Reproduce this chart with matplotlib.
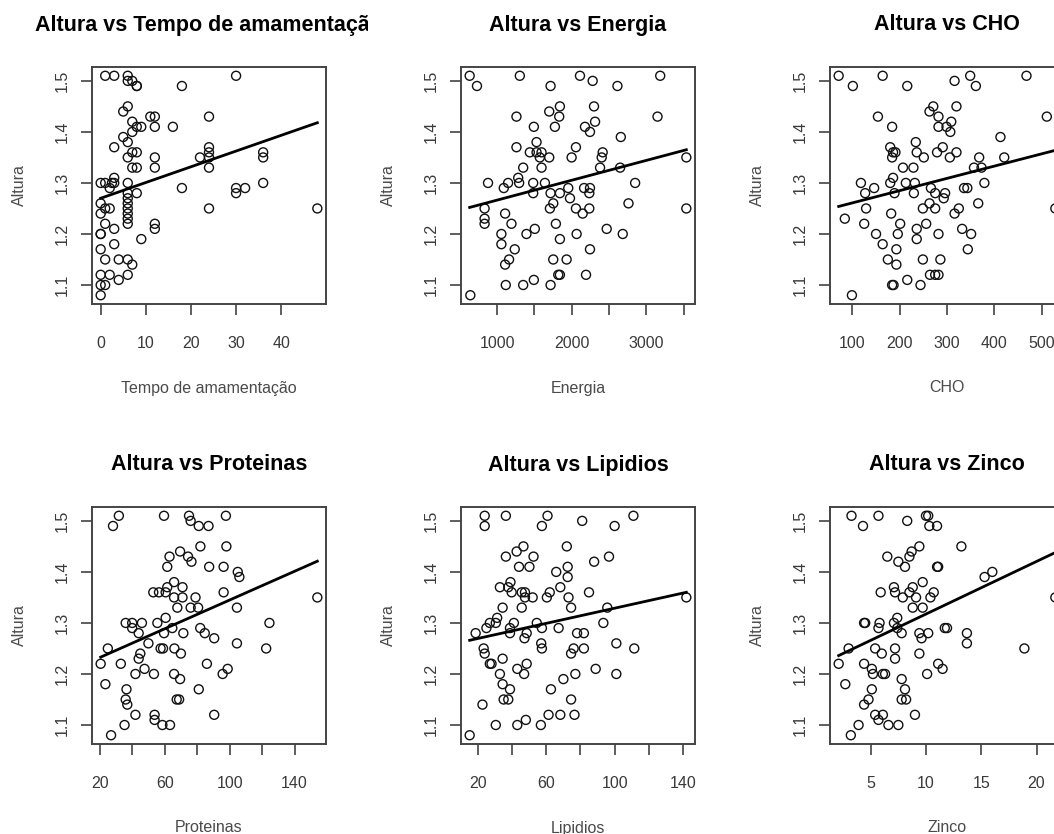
import numpy as np
import matplotlib
matplotlib.use('Agg')
from matplotlib import pyplot as plt
from matplotlib.transforms import Bbox, TransformedBbox

plt.rcParams['font.family'] = ['Liberation Sans', 'DejaVu Sans']

# Altura vs Tempo de amamentacao
tempo_x = [1, 3, 6, 6, 7, 8, 8, 18, 30,
           6, 5, 11, 12, 24, 7, 8, 9, 12, 16, 7, 5, 6, 3, 24,
           7, 8, 24, 36, 6, 12, 22, 24, 36,
           7, 8, 12, 24, 3,
           0, 1, 2.5, 3, 6, 36,
           2, 18, 30, 32, 30, 8,
           6, 6, 6, 6, 6, 6, 6,
           0, 1, 2, 48, 24, 0,
           12, 1, 12, 3, 0, 0, 9, 3, 0,
           1, 4, 6, 7, 0, 2, 6, 4, 0, 1, 0]
tempo_y = [1.51, 1.51, 1.51, 1.50, 1.50, 1.49, 1.49, 1.49, 1.51,
           1.45, 1.44, 1.43, 1.43, 1.43, 1.42, 1.41, 1.41, 1.41, 1.41, 1.40, 1.39, 1.38, 1.37, 1.37,
           1.36, 1.36, 1.36, 1.36, 1.35, 1.35, 1.35, 1.35, 1.35,
           1.33, 1.33, 1.33, 1.33, 1.31,
           1.30, 1.30, 1.30, 1.30, 1.30, 1.30,
           1.29, 1.29, 1.29, 1.29, 1.28, 1.28,
           1.28, 1.27, 1.26, 1.25, 1.24, 1.23, 1.22,
           1.26, 1.25, 1.25, 1.25, 1.25, 1.24,
           1.22, 1.22, 1.21, 1.21, 1.20, 1.20, 1.19, 1.18, 1.17,
           1.15, 1.15, 1.15, 1.14, 1.12, 1.12, 1.12, 1.11, 1.10, 1.10, 1.08]

# Altura vs Energia
energia_x = [633, 731, 1305, 2111, 2281, 1717, 2613, 3186,
             1260, 1699, 1842, 1833, 2299, 2313, 2245, 2178, 1493, 1775, 2658, 3150,
             1529, 1260, 2057, 1439, 1529, 1596, 1573, 1699, 1999, 2402, 2415, 3536,
             1350, 1596, 2380, 2649, 1283,
             879, 1148, 1296, 1484, 1641, 2850, 1090, 1954, 2166, 2245,
             1484, 1717, 1842, 2236, 1977, 1753, 2761,
             1708, 2057, 2236, 3536, 833, 1108, 2147, 833, 1193, 833, 1788,
             1506, 2469, 1058, 1394, 2066, 2684, 1842, 1058, 1237, 2245,
             1161, 1753, 1932, 1108, 1842, 1820, 2192, 1117, 1350, 1493, 1717, 642]
energia_y = [1.51, 1.49, 1.51, 1.51, 1.50, 1.49, 1.49, 1.51,
             1.43, 1.44, 1.45, 1.43, 1.45, 1.42, 1.40, 1.41, 1.41, 1.41, 1.39, 1.43,
             1.38, 1.37, 1.37, 1.36, 1.36, 1.36, 1.35, 1.35, 1.35, 1.35, 1.36, 1.35,
             1.33, 1.33, 1.33, 1.33, 1.31,
             1.30, 1.30, 1.30, 1.30, 1.30, 1.30, 1.29, 1.29, 1.29, 1.29,
             1.28, 1.28, 1.28, 1.28, 1.27, 1.26, 1.26,
             1.25, 1.25, 1.25, 1.25, 1.25, 1.24, 1.24, 1.23, 1.22, 1.22, 1.22,
             1.21, 1.21, 1.20, 1.20, 1.20, 1.20, 1.19, 1.18, 1.17, 1.17,
             1.15, 1.15, 1.15, 1.14, 1.12, 1.12, 1.12, 1.10, 1.10, 1.11, 1.10, 1.08]

# Altura vs CHO
cho_x = [71, 101, 164, 216, 316, 349, 361, 468,
         154, 184, 271, 263, 282, 320, 309, 282, 299, 307, 413, 511,
         234, 180, 291, 186, 191, 236, 279, 320, 251, 184, 306, 368, 421,
         207, 229, 357, 373, 186,
         118, 180, 213, 232, 379, 146, 266, 336, 343,
         127, 189, 230, 275, 296, 293, 263, 366,
         129, 249, 275, 325, 529, 316, 182, 84, 125, 201, 256,
         236, 332, 150, 196, 282, 351, 236, 164, 193, 344,
         175, 249, 286, 193, 264, 275, 282, 184, 187, 216, 244, 99]
cho_y = [1.51, 1.49, 1.51, 1.49, 1.50, 1.51, 1.49, 1.51,
         1.43, 1.41, 1.45, 1.44, 1.43, 1.45, 1.42, 1.41, 1.41, 1.40, 1.39, 1.43,
         1.38, 1.37, 1.37, 1.36, 1.36, 1.36, 1.36, 1.36, 1.35, 1.35, 1.35, 1.35, 1.35,
         1.33, 1.33, 1.33, 1.33, 1.31,
         1.30, 1.30, 1.30, 1.30, 1.30, 1.29, 1.29, 1.29, 1.29,
         1.28, 1.28, 1.28, 1.28, 1.28, 1.27, 1.26, 1.26,
         1.25, 1.25, 1.25, 1.25, 1.25, 1.24, 1.24, 1.23, 1.22, 1.22, 1.22,
         1.21, 1.21, 1.20, 1.20, 1.20, 1.20, 1.19, 1.18, 1.17, 1.17,
         1.15, 1.15, 1.15, 1.14, 1.12, 1.12, 1.12, 1.10, 1.10, 1.11, 1.10, 1.08]

# Altura vs Proteinas
prot_x = [28.2, 31.8, 59.6, 75, 76, 81, 87, 97.7,
          82, 98, 63, 69.5, 74.4, 76.5, 61.6, 87.4, 96.3, 105, 106,
          65.8, 71, 61.6, 53, 56.5, 60.6, 65.8, 71, 79, 96.3, 154,
          67.8, 76, 80.6, 104.5,
          36, 40, 46, 55.5, 60.6, 124.5, 40, 64.7, 81.9, 59.6, 71.5, 44, 84.7, 90.5,
          50, 104.5, 25, 57.5, 59, 66, 122.5, 45, 70, 44,
          20.6, 33, 86, 47.6, 98.8, 42, 53.4, 65.8, 95.7, 69.5,
          23.5, 36.5, 81, 36, 67.4, 68.9, 37, 42, 53.8, 90.5, 53.8,
          35.3, 58.6, 63.3, 27]
prot_y = [1.49, 1.51, 1.51, 1.51, 1.50, 1.49, 1.49, 1.51,
          1.45, 1.45, 1.43, 1.44, 1.43, 1.42, 1.41, 1.41, 1.41, 1.40, 1.39,
          1.38, 1.37, 1.37, 1.36, 1.36, 1.36, 1.35, 1.35, 1.35, 1.36, 1.35,
          1.33, 1.33, 1.33, 1.33,
          1.30, 1.30, 1.30, 1.30, 1.31, 1.30, 1.29, 1.29, 1.29, 1.28, 1.28, 1.28, 1.28, 1.27,
          1.26, 1.26, 1.25, 1.25, 1.25, 1.25, 1.25, 1.24, 1.24, 1.23,
          1.22, 1.22, 1.22, 1.21, 1.21, 1.20, 1.20, 1.20, 1.20, 1.19,
          1.18, 1.17, 1.17, 1.15, 1.15, 1.15, 1.14, 1.12, 1.12, 1.12, 1.11,
          1.10, 1.10, 1.10, 1.08]

# Altura vs Lipidios
lip_x = [23.9, 23.9, 36.3, 60.7, 57.4, 81, 100, 111,
         46.6, 42.6, 36.3, 52.5, 72, 96.7, 44, 50.1, 72.5, 88, 65.8, 72.5,
         39, 32.8, 37.7, 68.2, 39.7, 45.6, 47.5, 62, 85,
         47.5, 52, 60.3, 73, 142,
         34.4, 45.6, 74.5, 95.7, 31.2,
         26.9, 30.4, 41, 54.4, 93.4, 24.9, 38.7, 57.4, 67.2,
         18.6, 38.7, 48.5, 78, 82, 47.2, 57, 101,
         23.3, 57.4, 76, 82, 111.5, 23.9, 74.5, 34.4,
         26.9, 27.9, 48.5, 43, 88.9, 32.8, 47, 77, 101, 70,
         34.4, 38.7, 62.7, 35, 37.7, 74.5, 22.6,
         61.3, 68.2, 76.5, 48, 30.4, 43, 56.8, 15.1]
lip_y = [1.51, 1.49, 1.51, 1.51, 1.49, 1.50, 1.49, 1.51,
         1.45, 1.44, 1.43, 1.43, 1.45, 1.43, 1.41, 1.41, 1.41, 1.42, 1.40, 1.39,
         1.38, 1.37, 1.37, 1.37, 1.36, 1.36, 1.36, 1.36, 1.36,
         1.35, 1.35, 1.35, 1.35, 1.35,
         1.33, 1.33, 1.33, 1.33, 1.31,
         1.30, 1.30, 1.30, 1.30, 1.30, 1.29, 1.29, 1.29, 1.29,
         1.28, 1.28, 1.28, 1.28, 1.28, 1.27, 1.26, 1.26,
         1.25, 1.25, 1.25, 1.25, 1.25, 1.24, 1.24, 1.23,
         1.22, 1.22, 1.22, 1.21, 1.21, 1.20, 1.20, 1.20, 1.20, 1.19,
         1.18, 1.17, 1.17, 1.15, 1.15, 1.15, 1.14,
         1.12, 1.12, 1.12, 1.11, 1.10, 1.10, 1.10, 1.08]

# Altura vs Zinco
zinco_x = [3.26, 4.3, 5.7, 8.3, 10, 10.2, 10.3, 11.0,
           9.4, 13.2, 8.7, 8.5, 6.5, 7.5, 8.1, 11.0, 11.1, 15.3, 16.0,
           9.7, 7.1, 8.8, 5.9, 7.2, 8.5, 10.7, 7.9, 9.1, 10.4, 21.7,
           8.8, 9.7, 7.4,
           4.4, 4.5, 5.8, 7.1, 5.7, 7.4, 11.7, 11.9, 7.8, 9.4, 10.2, 13.7, 9.6, 13.7,
           3.0, 5.4, 7.2, 18.9, 6.0, 9.4, 7.2,
           2.1, 4.4, 11.1, 5.1, 11.5, 5.2, 6.1, 6.3, 10.1, 7.8,
           2.7, 5.1, 8.1, 4.8, 7.8, 8.2, 4.4,
           5.4, 6.1, 9.0, 5.7, 3.9, 6.6, 7.5, 3.2]
zinco_y = [1.51, 1.49, 1.51, 1.50, 1.51, 1.51, 1.49, 1.49,
           1.45, 1.45, 1.44, 1.43, 1.43, 1.42, 1.41, 1.41, 1.41, 1.39, 1.40,
           1.38, 1.37, 1.37, 1.36, 1.36, 1.36, 1.36, 1.35, 1.35, 1.35, 1.35,
           1.33, 1.33, 1.31,
           1.30, 1.30, 1.30, 1.30, 1.29, 1.29, 1.29, 1.29, 1.28, 1.28, 1.28, 1.28, 1.27, 1.26,
           1.25, 1.25, 1.25, 1.25, 1.24, 1.24, 1.23,
           1.22, 1.22, 1.22, 1.21, 1.21, 1.20, 1.20, 1.20, 1.20, 1.19,
           1.18, 1.17, 1.17, 1.15, 1.15, 1.15, 1.14,
           1.12, 1.12, 1.12, 1.11, 1.10, 1.10, 1.10, 1.08]

# reta de regressao (intercepto, inclinacao)
fit_intercept = [1.270, 1.2274, 1.2369, 1.2040, 1.2548, 1.2144]
fit_slope = [0.003083, 3.893e-5, 0.0002402, 0.001409, 0.000741, 0.010306]

titles = ['Altura vs Tempo de amamentação', 'Altura vs Energia', 'Altura vs CHO',
          'Altura vs Proteinas', 'Altura vs Lipidios', 'Altura vs Zinco']
xlabels = ['Tempo de amamentação', 'Energia', 'CHO', 'Proteinas', 'Lipidios', 'Zinco']
xticks = [[0, 10, 20, 30, 40],
          [1000, 1500, 2000, 2500, 3000, 3500],
          [100, 200, 300, 400, 500],
          [20, 40, 60, 80, 100, 120, 140],
          [20, 40, 60, 80, 100, 120, 140],
          [5, 10, 15, 20]]
xticklabels = [['0', '10', '20', '30', '40'],
               ['1000', '', '2000', '', '3000', ''],
               ['100', '200', '300', '400', '500'],
               ['20', '', '60', '', '100', '', '140'],
               ['20', '', '60', '', '100', '', '140'],
               ['5', '10', '15', '20']]
yticks = [1.1, 1.2, 1.3, 1.4, 1.5]

xs = [tempo_x, energia_x, cho_x, prot_x, lip_x, zinco_x]
ys = [tempo_y, energia_y, cho_y, prot_y, lip_y, zinco_y]

W, H = 1054, 834
fig = plt.figure(figsize=(W / 100, H / 100), dpi=100)

col_left = [92, 461, 830]
row_top = [67, 507]
aw, ah = 234, 237

for i in range(6):
    r, c = i // 3, i % 3
    left = col_left[c]
    top = row_top[r]
    ax = fig.add_axes([left / W, 1 - (top + ah) / H, aw / W, ah / H])
    x = np.array(xs[i], dtype=float)
    y = np.array(ys[i], dtype=float)
    ax.scatter(x, y, s=42, facecolors='none', edgecolors='#111111', linewidths=1.0, zorder=3)
    xl = np.array([x.min(), x.max()])
    ax.plot(xl, fit_intercept[i] + fit_slope[i] * xl, color='black', lw=2.0, zorder=4)

    # limites como no R (4% de folga)
    dx = (x.max() - x.min()) * 0.04
    dy = (y.max() - y.min()) * 0.04
    ax.set_xlim(x.min() - dx, x.max() + dx)
    ax.set_ylim(y.min() - dy, y.max() + dy)

    ax.set_xticks(xticks[i])
    ax.set_xticklabels(xticklabels[i])
    ax.set_yticks(yticks)
    ax.set_yticklabels(['1.1', '1.2', '1.3', '1.4', '1.5'], rotation=90, va='center')
    ax.tick_params(axis='x', length=8, width=1.1, color='#333333', pad=15,
                   labelsize=11.5, labelcolor='#3a3a3a')
    ax.tick_params(axis='y', length=8, width=1.1, color='#333333', pad=8,
                   labelsize=11.5, labelcolor='#3a3a3a')
    for s in ax.spines.values():
        s.set_color('#444444')
        s.set_linewidth(1.4)

    ax.text(0.5, -84 / ah, xlabels[i], transform=ax.transAxes, ha='center', va='center',
            fontsize=11.5, color='#4a4a4a')
    ax.text(-73 / aw, 0.5, 'Altura', transform=ax.transAxes, ha='center', va='center',
            rotation=90, fontsize=11.5, color='#4a4a4a')
    t = ax.text(0.5, 1 + 42 / ah, titles[i], transform=ax.transAxes, ha='center',
                va='center', fontsize=15.5, fontweight='bold', color='black')
    # o titulo fica cortado na regiao de cada grafico
    reg = Bbox.from_extents(c * 368 / W, 0, (c + 1) * 368 / W, 1)
    t.set_clip_box(TransformedBbox(reg, fig.transFigure))
    t.set_clip_on(True)

fig.savefig('out.png', dpi=100)
